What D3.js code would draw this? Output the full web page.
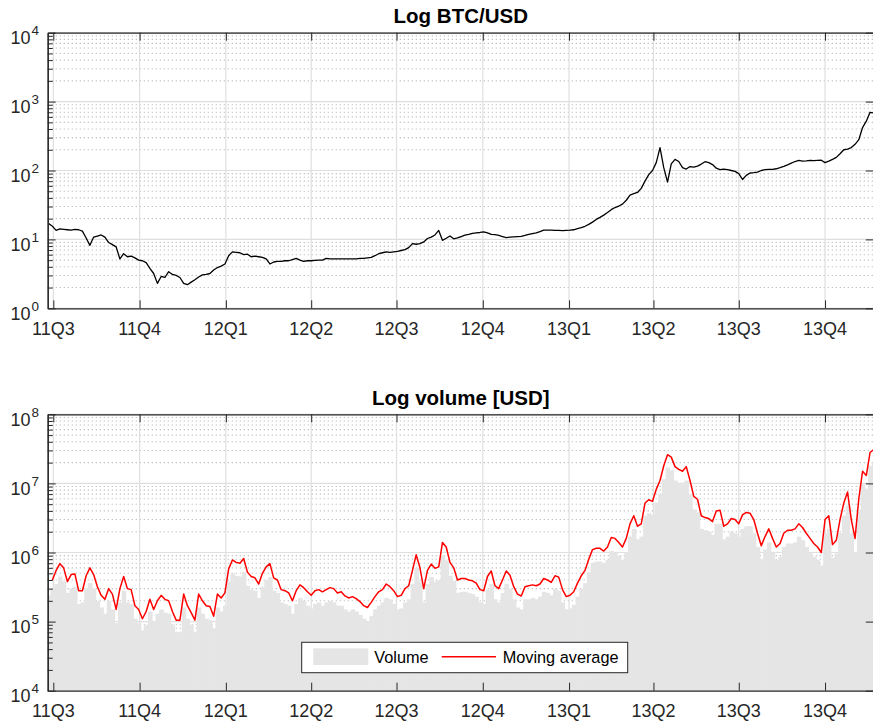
<!DOCTYPE html>
<html>
<head>
<meta charset="utf-8">
<script src="https://cdn.jsdelivr.net/npm/d3@7"></script>
<style>
  body { margin: 0; background: #fff; }
  svg { display: block; font-family: "Liberation Sans", Arial, sans-serif; }
</style>
</head>
<body>
<svg id="chart"></svg>
<script>
// one sample every 4 days, first sample on 2011-06-26
const startDate = '2011-06-26';
const stepDays = 4;

// BTC/USD price
const price = [
  17.0, 15.5, 13.5, 14.2, 14.0, 13.8, 13.6, 14.0, 13.8, 13.2,
  10.5, 8.2, 10.8, 11.2, 11.6, 10.8, 9.0, 8.4, 7.8, 5.2,
  6.2, 5.6, 5.7, 5.4, 5.0, 4.9, 4.6, 3.8, 3.2, 2.3,
  2.9, 2.8, 3.4, 3.1, 3.0, 2.8, 2.3, 2.2, 2.4, 2.6,
  2.85, 3.05, 3.1, 3.2, 3.6, 3.9, 4.1, 4.4, 5.8, 6.6,
  6.5, 6.4, 6.0, 6.1, 5.6, 5.7, 5.6, 5.5, 5.2, 4.4,
  4.7, 4.8, 4.8, 4.9, 4.9, 5.1, 5.3, 5.0, 4.8, 4.9,
  4.9, 4.95, 5.0, 5.0, 5.3, 5.2, 5.2, 5.2, 5.2, 5.2,
  5.2, 5.2, 5.2, 5.3, 5.3, 5.4, 5.5, 5.8, 6.2, 6.4,
  6.6, 6.5, 6.6, 6.7, 6.9, 7.1, 7.6, 8.7, 8.5, 8.7,
  9.2, 10.3, 10.8, 11.6, 13.5, 9.7, 10.4, 11.2, 10.2, 10.5,
  11.0, 11.5, 11.8, 12.2, 12.4, 12.6, 12.9, 12.4, 11.8, 11.7,
  11.4, 11.0, 10.6, 10.8, 10.9, 11.0, 11.1, 11.4, 11.8, 12.1,
  12.4, 13.0, 13.6, 13.6, 13.6, 13.5, 13.5, 13.4, 13.5, 13.6,
  13.8, 14.3, 14.8, 15.5, 16.5, 17.8, 19.5, 20.9, 22.5, 24.5,
  27.0, 29.0, 30.5, 32.5, 37, 44, 46, 48, 55, 70,
  87, 100, 130, 215, 110, 68, 125, 145, 135, 110,
  105, 114, 112, 116, 124, 134, 130, 122, 108, 103,
  105, 103, 100, 97, 90, 74, 85, 92, 93, 95,
  100, 103, 104, 104, 106, 110, 115, 121, 128, 135,
  140, 137, 138, 140, 139, 140, 141, 130, 137, 145,
  155, 175, 200, 205, 215, 240, 280, 420, 520, 700,
  680
];

// traded volume [USD]
const volume = [
  2.4e5, 3.0e5, 3.5e5, 4.5e5, 3.8e5, 2.6e5, 3.0e5, 3.2e5, 1.8e5, 1.9e5,
  3.0e5, 3.6e5, 3.0e5, 2.0e5, 1.6e5, 1.3e5, 2.0e5, 1.5e5, 0.95e5, 1.9e5,
  2.8e5, 1.9e5, 1.8e5, 1.1e5, 0.95e5, 0.75e5, 0.9e5, 1.4e5, 1.0e5, 1.3e5,
  1.5e5, 1.35e5, 1.3e5, 0.9e5, 0.7e5, 0.7e5, 1.6e5, 1.1e5, 0.9e5, 0.7e5,
  1.6e5, 1.3e5, 1.1e5, 1.05e5, 0.8e5, 1.6e5, 1.4e5, 1.7e5, 3.8e5, 5.0e5,
  4.6e5, 4.5e5, 5.2e5, 3.3e5, 2.9e5, 2.8e5, 2.2e5, 3.2e5, 4.0e5, 4.4e5,
  2.8e5, 2.6e5, 1.9e5, 1.8e5, 1.7e5, 1.3e5, 1.8e5, 2.2e5, 2.0e5, 1.7e5,
  1.55e5, 1.8e5, 1.9e5, 1.7e5, 1.9e5, 2.0e5, 1.9e5, 1.7e5, 1.7e5, 1.5e5,
  1.4e5, 1.5e5, 1.4e5, 1.25e5, 1.1e5, 1.0e5, 1.2e5, 1.5e5, 1.7e5, 1.9e5,
  2.2e5, 2.1e5, 1.8e5, 1.5e5, 1.55e5, 1.9e5, 2.1e5, 3.5e5, 6.0e5, 3.8e5,
  1.9e5, 3.5e5, 4.4e5, 3.8e5, 4.0e5, 9.0e5, 7.7e5, 4.6e5, 3.9e5, 2.6e5,
  2.7e5, 2.7e5, 2.6e5, 2.5e5, 2.3e5, 1.9e5, 1.8e5, 2.9e5, 3.5e5, 2.1e5,
  1.9e5, 2.6e5, 3.5e5, 3.0e5, 2.1e5, 1.6e5, 1.5e5, 2.1e5, 2.1e5, 2.2e5,
  2.1e5, 2.3e5, 2.7e5, 2.6e5, 2.4e5, 3.0e5, 2.8e5, 1.9e5, 1.5e5, 1.55e5,
  1.75e5, 2.3e5, 3.0e5, 3.6e5, 5.2e5, 7.0e5, 7.4e5, 7.4e5, 6.8e5, 7.8e5,
  1.05e6, 1.0e6, 9.0e5, 7.8e5, 1.0e6, 1.7e6, 2.2e6, 1.55e6, 1.7e6, 3.4e6,
  3.7e6, 3.5e6, 5.3e6, 7.0e6, 1.15e7, 1.7e7, 1.55e7, 1.1e7, 1.0e7, 9.7e6,
  1.1e7, 7.0e6, 4.2e6, 3.8e6, 2.2e6, 2.1e6, 2.0e6, 1.8e6, 2.6e6, 2.6e6,
  1.55e6, 1.7e6, 2.0e6, 1.9e6, 1.7e6, 2.2e6, 2.4e6, 2.4e6, 1.9e6, 1.2e6,
  8.0e5, 1.1e6, 1.4e6, 1.0e6, 7.8e5, 8.7e5, 1.2e6, 1.35e6, 1.35e6, 1.4e6,
  1.7e6, 1.5e6, 1.2e6, 1.0e6, 8.7e5, 7.8e5, 6.5e5, 1.9e6, 2.2e6, 8.4e5,
  9.7e5, 1.9e6, 3.4e6, 4.8e6, 1.9e6, 1.0e6, 3.9e6, 9.7e6, 8.4e6, 1.8e7,
  2.0e7
];

// moving average of volume [USD]
const movingAvg = [
  null, 4.0e5, 5.5e5, 6.9e5, 6.0e5, 3.8e5, 4.8e5, 4.9e5, 2.8e5, 2.8e5,
  4.6e5, 6.0e5, 4.8e5, 3.2e5, 2.4e5, 2.1e5, 3.0e5, 2.5e5, 1.5e5, 3.0e5,
  4.5e5, 3.0e5, 2.9e5, 1.7e5, 1.5e5, 1.1e5, 1.4e5, 2.1e5, 1.5e5, 2.0e5,
  2.4e5, 2.1e5, 2.0e5, 1.4e5, 1.05e5, 1.05e5, 2.5e5, 1.7e5, 1.35e5, 1.05e5,
  2.5e5, 2.0e5, 1.7e5, 1.65e5, 1.2e5, 2.5e5, 2.2e5, 2.6e5, 5.8e5, 7.8e5,
  7.2e5, 7.0e5, 8.2e5, 5.2e5, 4.5e5, 4.3e5, 3.5e5, 5.0e5, 6.2e5, 6.9e5,
  4.3e5, 4.0e5, 2.9e5, 2.8e5, 2.6e5, 2.0e5, 2.8e5, 3.4e5, 3.1e5, 2.7e5,
  2.4e5, 2.8e5, 2.9e5, 2.7e5, 2.9e5, 3.1e5, 3.0e5, 2.6e5, 2.7e5, 2.35e5,
  2.2e5, 2.3e5, 2.15e5, 1.95e5, 1.7e5, 1.6e5, 1.9e5, 2.3e5, 2.7e5, 2.9e5,
  3.5e5, 3.2e5, 2.8e5, 2.3e5, 2.4e5, 3.0e5, 3.3e5, 5.5e5, 9.3e5, 6.0e5,
  3.0e5, 5.5e5, 6.8e5, 5.9e5, 6.2e5, 1.4e6, 1.2e6, 7.2e5, 6.0e5, 4.0e5,
  4.2e5, 4.2e5, 4.0e5, 3.9e5, 3.6e5, 2.9e5, 2.8e5, 4.5e5, 5.4e5, 3.3e5,
  3.0e5, 4.0e5, 5.4e5, 4.7e5, 3.2e5, 2.5e5, 2.35e5, 3.2e5, 3.3e5, 3.4e5,
  3.3e5, 3.5e5, 4.2e5, 4.0e5, 3.7e5, 4.6e5, 4.4e5, 2.9e5, 2.3e5, 2.4e5,
  2.7e5, 3.6e5, 4.6e5, 5.5e5, 8.0e5, 1.1e6, 1.15e6, 1.15e6, 1.05e6, 1.2e6,
  1.65e6, 1.6e6, 1.4e6, 1.2e6, 1.6e6, 2.6e6, 3.4e6, 2.4e6, 2.6e6, 5.2e6,
  5.8e6, 5.5e6, 8.2e6, 1.1e7, 1.8e7, 2.6e7, 2.4e7, 1.75e7, 1.6e7, 1.5e7,
  1.75e7, 1.1e7, 6.5e6, 5.9e6, 3.4e6, 3.2e6, 3.1e6, 2.8e6, 4.0e6, 4.1e6,
  2.4e6, 2.6e6, 3.1e6, 3.0e6, 2.6e6, 3.5e6, 3.8e6, 3.7e6, 3.0e6, 1.9e6,
  1.25e6, 1.7e6, 2.2e6, 1.6e6, 1.2e6, 1.35e6, 1.9e6, 2.1e6, 2.1e6, 2.2e6,
  2.6e6, 2.3e6, 1.9e6, 1.6e6, 1.35e6, 1.2e6, 1.0e6, 3.0e6, 3.4e6, 1.3e6,
  1.5e6, 3.0e6, 5.2e6, 7.5e6, 3.0e6, 1.6e6, 6.0e6, 1.5e7, 1.3e7, 2.8e7,
  3.1e7
];

// x axis ticks (quarter starts) and y axis decades
const quarterLabels = ['11Q3', '11Q4', '12Q1', '12Q2', '12Q3', '12Q4', '13Q1', '13Q2', '13Q3', '13Q4'];
const quarterStarts = ['2011-07-01', '2011-10-01', '2012-01-01', '2012-04-01', '2012-07-01',
                       '2012-10-01', '2013-01-01', '2013-04-01', '2013-07-01', '2013-10-01'];
const priceExponents = [0, 1, 2, 3, 4];
const volumeExponents = [4, 5, 6, 7, 8];
const xDomain = ['2011-06-25', '2013-11-22'];

// set the dimensions of the figure
const width = 873;
const height = 722;
const left = 47.7;
const right = 873.8;
const axisColor = '#262626';

const parse = d3.timeParse('%Y-%m-%d');
const t0 = parse(startDate);
const dateAt = i => d3.timeDay.offset(t0, i * stepDays);

const priceData = price.map((v, i) => ({date: dateAt(i), value: v}));
const volumeData = volume.map((v, i) => ({date: dateAt(i), value: v}));
const avgData = movingAvg.map((v, i) => ({date: dateAt(i), value: v}));
const quarterDates = quarterStarts.map(parse);

const svg = d3.select('#chart')
  .attr('width', width)
  .attr('height', height);

// shared x scale
const xScale = d3.scaleTime()
  .domain(xDomain.map(parse))
  .range([left, right]);

// draw one log panel: grid, axes, labels and title
function drawPanel(id, exps, top, bottom, title, drawMarks) {
  const yScale = d3.scaleLog()
    .domain([Math.pow(10, exps[0]), Math.pow(10, exps[exps.length - 1])])
    .range([bottom, top]);
  const majors = exps.map(e => Math.pow(10, e));
  const minors = [];
  exps.slice(0, -1).forEach(e => {
    for (let k = 2; k <= 9; k++) minors.push(k * Math.pow(10, e));
  });

  const g = svg.append('g');

  g.append('clipPath').attr('id', id)
    .append('rect')
    .attr('x', left).attr('y', top)
    .attr('width', right - left).attr('height', bottom - top);

  // grid lines
  const grid = g.append('g');
  grid.selectAll('.minor')
    .data(minors)
    .enter().append('line')
    .attr('x1', left).attr('x2', right)
    .attr('y1', d => yScale(d)).attr('y2', d => yScale(d))
    .attr('stroke', '#bcbcbc')
    .attr('stroke-width', 1.1)
    .attr('stroke-dasharray', '1.2,2.8');
  grid.selectAll('.hmajor')
    .data(majors)
    .enter().append('line')
    .attr('x1', left).attr('x2', right)
    .attr('y1', d => yScale(d)).attr('y2', d => yScale(d))
    .attr('stroke', '#dfdfdf')
    .attr('stroke-width', 1.2);
  grid.selectAll('.vmajor')
    .data(quarterDates)
    .enter().append('line')
    .attr('x1', d => xScale(d)).attr('x2', d => xScale(d))
    .attr('y1', top).attr('y2', bottom)
    .attr('stroke', '#dfdfdf')
    .attr('stroke-width', 1.2);

  const marks = g.append('g').attr('clip-path', `url(#${id})`);
  drawMarks(marks, yScale);

  // axes with inward ticks
  const axes = g.append('g').attr('color', axisColor);
  axes.append('g')
    .attr('transform', `translate(${left},0)`)
    .call(d3.axisLeft(yScale).tickValues(minors).tickSize(-5).tickSizeOuter(0).tickFormat(''));
  axes.append('g')
    .attr('transform', `translate(${left},0)`)
    .call(d3.axisLeft(yScale).tickValues(majors).tickSize(-8).tickSizeOuter(0).tickFormat(''));
  axes.append('g')
    .attr('transform', `translate(${right},0)`)
    .call(d3.axisRight(yScale).tickValues(majors).tickSize(-8).tickSizeOuter(0).tickFormat(''));
  axes.append('g')
    .attr('transform', `translate(0,${bottom})`)
    .call(d3.axisBottom(xScale).tickValues(quarterDates).tickSize(-8).tickSizeOuter(0).tickFormat(''));
  axes.append('g')
    .attr('transform', `translate(0,${top})`)
    .call(d3.axisTop(xScale).tickValues(quarterDates).tickSize(-8).tickSizeOuter(0).tickFormat(''));
  axes.selectAll('path.domain').attr('stroke-width', 1.2);

  // x tick labels
  g.selectAll('.xlabel')
    .data(quarterDates)
    .enter().append('text')
    .attr('x', d => xScale(d))
    .attr('y', bottom + 26.5)
    .attr('text-anchor', 'middle')
    .attr('font-size', 18)
    .attr('fill', axisColor)
    .text((d, i) => quarterLabels[i]);

  // y tick labels 10^n
  const ylab = g.selectAll('.ylabel')
    .data(exps)
    .enter().append('text')
    .attr('x', 39)
    .attr('y', e => yScale(Math.pow(10, e)) + 11.6)
    .attr('text-anchor', 'end')
    .attr('fill', axisColor);
  ylab.append('tspan').attr('font-size', 18).text('10');
  ylab.append('tspan').attr('font-size', 13.5).attr('dx', 1).attr('dy', -9.3).text(e => e);

  // title
  g.append('text')
    .attr('x', (left + right) / 2)
    .attr('y', top - 9.5)
    .attr('text-anchor', 'middle')
    .attr('font-size', 20.5)
    .attr('font-weight', 'bold')
    .attr('fill', '#000')
    .text(title);

  return {g, yScale};
}

// top panel: price
drawPanel('clip-price', priceExponents, 32.7, 308.3, 'Log BTC/USD', (marks, yScale) => {
  marks.append('path')
    .datum(priceData)
    .attr('fill', 'none')
    .attr('stroke', '#000')
    .attr('stroke-width', 1.3)
    .attr('stroke-linejoin', 'round')
    .attr('d', d3.line().x(d => xScale(d.date)).y(d => yScale(d.value)));
});

// bottom panel: volume
const volPanel = drawPanel('clip-vol', volumeExponents, 414.3, 690.7, 'Log volume [USD]', (marks, yScale) => {
  marks.selectAll('rect')
    .data(volumeData)
    .enter().append('rect')
    .attr('x', d => xScale(d3.timeDay.offset(d.date, -stepDays / 2)))
    .attr('y', d => yScale(d.value))
    .attr('width', d => xScale(d3.timeDay.offset(d.date, stepDays / 2)) - xScale(d3.timeDay.offset(d.date, -stepDays / 2)) + 0.8)
    .attr('height', d => yScale.range()[0] - yScale(d.value))
    .attr('fill', '#e5e5e5');
  marks.append('path')
    .datum(avgData)
    .attr('fill', 'none')
    .attr('stroke', '#ff0000')
    .attr('stroke-width', 1.5)
    .attr('stroke-linejoin', 'round')
    .attr('d', d3.line().defined(d => d.value != null).x(d => xScale(d.date)).y(d => yScale(d.value)));
});

// legend
const legend = volPanel.g.append('g');
legend.append('rect')
  .attr('x', 301.7).attr('y', 642.3)
  .attr('width', 326).attr('height', 30.4)
  .attr('fill', '#fff')
  .attr('stroke', axisColor)
  .attr('stroke-width', 1);
legend.append('rect')
  .attr('x', 313.3).attr('y', 648.3)
  .attr('width', 55).attr('height', 16.7)
  .attr('fill', '#e5e5e5');
legend.append('text')
  .attr('x', 374.3).attr('y', 663.3)
  .attr('font-size', 16.3)
  .attr('fill', '#000')
  .text('Volume');
legend.append('line')
  .attr('x1', 441.7).attr('x2', 496)
  .attr('y1', 656.7).attr('y2', 656.7)
  .attr('stroke', '#ff0000')
  .attr('stroke-width', 1.5);
legend.append('text')
  .attr('x', 502.7).attr('y', 663.3)
  .attr('font-size', 16.3)
  .attr('fill', '#000')
  .text('Moving average');
</script>
</body>
</html>
